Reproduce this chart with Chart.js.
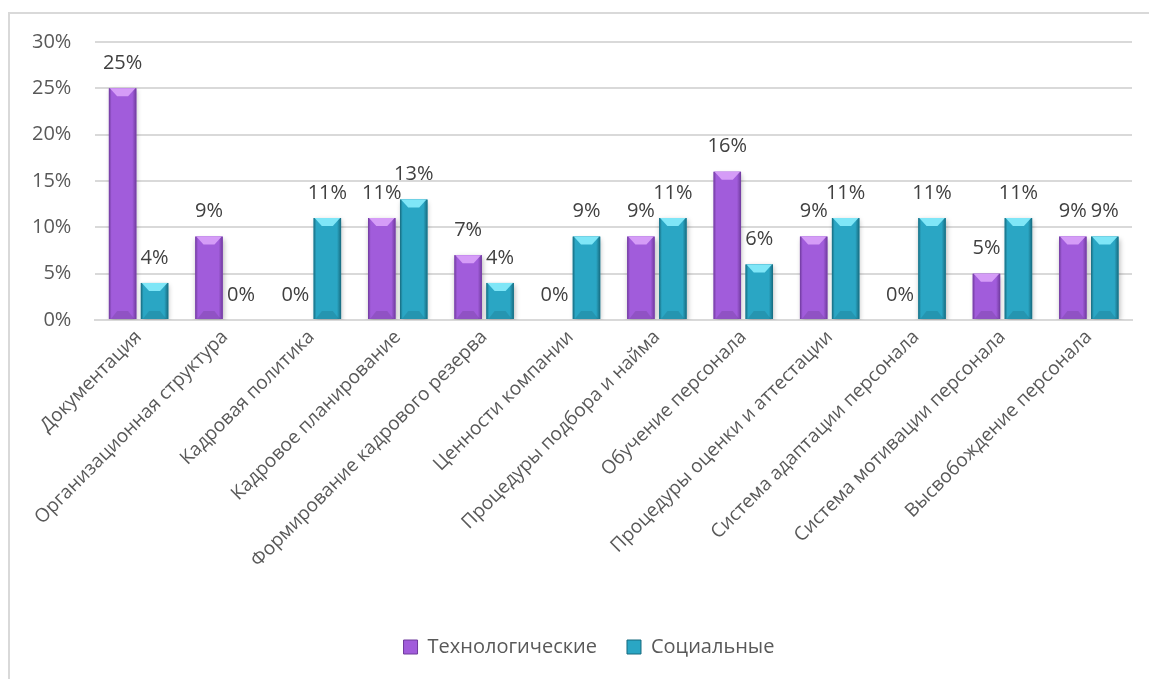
<!DOCTYPE html>
<html>
<head>
<meta charset="utf-8">
<script src="https://cdn.jsdelivr.net/npm/chart.js@4"></script>
<style>
  html, body { margin: 0; padding: 0; background: #fff; }
  body { width: 1149px; height: 679px; overflow: hidden; position: relative; }
  .frame { position: absolute; left: 8px; top: 12px; width: 1200px; height: 700px;
           border-left: 2px solid #d9d9d9; border-top: 2px solid #d9d9d9; }
  #wrap { position: absolute; left: 0; top: 0; width: 1149px; height: 679px; }
</style>
</head>
<body>
<div class="frame"></div>
<div id="wrap"><canvas id="barChart"></canvas></div>
<script>
var categories = ['Документация', 'Организационная структура', 'Кадровая политика',
  'Кадровое планирование', 'Формирование кадрового резерва', 'Ценности компании',
  'Процедуры подбора и найма', 'Обучение персонала', 'Процедуры оценки и аттестации',
  'Система адаптации персонала', 'Система мотивации персонала', 'Высвобождение персонала'];
var tech = [25, 9, 0, 11, 7, 0, 9, 16, 9, 0, 5, 9];
var social = [4, 0, 11, 13, 4, 9, 11, 6, 11, 11, 11, 9];
var yTicks = [0, 5, 10, 15, 20, 25, 30];

var FONT = "'Open Sans', sans-serif";
var TEXT = '#595959';

// bevel colours per dataset: body, dark edge, light top
var tones = [
  { body: '#a15cdb', edge: '#6f3a9c', light: '#d59cf7' },
  { body: '#2aa6c4', edge: '#176a7e', light: '#7fe6f7' }
];

// shadow + bevel drawing for the bars
var bevelBars = {
  id: 'bevelBars',
  afterLayout: function (chart) {
    // legend sits a little right of the plot centre
    if (chart.legend) {
      chart.legend.left += 19;
      chart.legend.right += 19;
    }
  },
  beforeDatasetsDraw: function (chart) {
    var c = chart.ctx;
    c.save();
    c.shadowColor = 'rgba(0,0,0,0.28)';
    c.shadowBlur = 5;
    c.shadowOffsetX = 1;
    c.shadowOffsetY = 2;
  },
  afterDatasetsDraw: function (chart) {
    var c = chart.ctx;
    c.restore();
    chart.data.datasets.forEach(function (ds, di) {
      var t = tones[di];
      chart.getDatasetMeta(di).data.forEach(function (bar) {
        var p = bar.getProps(['x', 'y', 'base', 'width'], true);
        var h = p.base - p.y;
        if (h < 1) return;
        var l = p.x - p.width / 2, r = p.x + p.width / 2;
        c.save();
        // side shading
        var g = c.createLinearGradient(l, 0, r, 0);
        g.addColorStop(0, t.edge);
        g.addColorStop(0.1, t.body);
        g.addColorStop(0.85, t.body);
        g.addColorStop(1, t.edge);
        c.fillStyle = g;
        c.fillRect(l, p.y, r - l, h);
        // top bevel
        var b = Math.min(8, h / 2);
        c.fillStyle = t.light;
        c.beginPath();
        c.moveTo(l + 1, p.y);
        c.lineTo(r - 1, p.y);
        c.lineTo(p.x + p.width * 0.2, p.y + b);
        c.lineTo(p.x - p.width * 0.2, p.y + b);
        c.closePath();
        c.fill();
        // bottom bevel
        c.fillStyle = 'rgba(0,0,0,0.10)';
        c.beginPath();
        c.moveTo(l + 2, p.base);
        c.lineTo(r - 2, p.base);
        c.lineTo(p.x + p.width * 0.2, p.base - b);
        c.lineTo(p.x - p.width * 0.2, p.base - b);
        c.closePath();
        c.fill();
        c.restore();
      });
    });
    // value labels
    c.save();
    c.font = '20px ' + FONT;
    c.fillStyle = '#404040';
    c.textAlign = 'center';
    c.textBaseline = 'middle';
    chart.data.datasets.forEach(function (ds, di) {
      chart.getDatasetMeta(di).data.forEach(function (bar, i) {
        c.fillText(ds.data[i] + '%', bar.x, bar.y - 25);
      });
    });
    c.restore();
  }
};

var ctx = document.getElementById('barChart').getContext('2d');
var barChart = new Chart(ctx, {
  type: 'bar',
  data: {
    labels: categories,
    datasets: [{
      label: 'Технологические',
      data: tech,
      backgroundColor: tones[0].body
    }, {
      label: 'Социальные',
      data: social,
      backgroundColor: tones[1].body
    }]
  },
  options: {
    responsive: true,
    maintainAspectRatio: false,
    animation: false,
    categoryPercentage: 0.74,
    barPercentage: 0.86,
    layout: { padding: { left: 8, right: 17, top: 42, bottom: 12 } },
    plugins: {
      tooltip: { enabled: false },
      legend: {
        position: 'bottom',
        labels: {
          boxWidth: 14, boxHeight: 14, padding: 30,
          color: TEXT, font: { family: FONT, size: 20 },
          generateLabels: function (chart) {
            return chart.data.datasets.map(function (ds, i) {
              return { text: ds.label, fillStyle: tones[i].body, strokeStyle: tones[i].edge,
                       lineWidth: 1, fontColor: TEXT, datasetIndex: i };
            });
          }
        }
      }
    },
    scales: {
      x: {
        grid: { display: false, drawTicks: false },
        border: { color: '#d9d9d9', width: 2 },
        afterFit: function (axis) {
          // rotated labels may hang past the left edge
          axis.height = 287;
          axis.paddingLeft = 0;
          axis.paddingRight = 0;
        },
        ticks: {
          color: TEXT, font: { family: FONT, size: 19 },
          autoSkip: false, maxRotation: 45, minRotation: 45, padding: 6
        }
      },
      y: {
        min: 0, max: 30,
        afterBuildTicks: function (axis) {
          axis.ticks = yTicks.map(function (v) { return { value: v }; });
        },
        grid: { color: '#d9d9d9', lineWidth: 2, drawTicks: false },
        border: { display: false },
        ticks: {
          color: TEXT, font: { family: FONT, size: 20 }, padding: 24,
          callback: function (v) { return v + '%'; }
        }
      }
    }
  },
  plugins: [bevelBars]
});
</script>
</body>
</html>
